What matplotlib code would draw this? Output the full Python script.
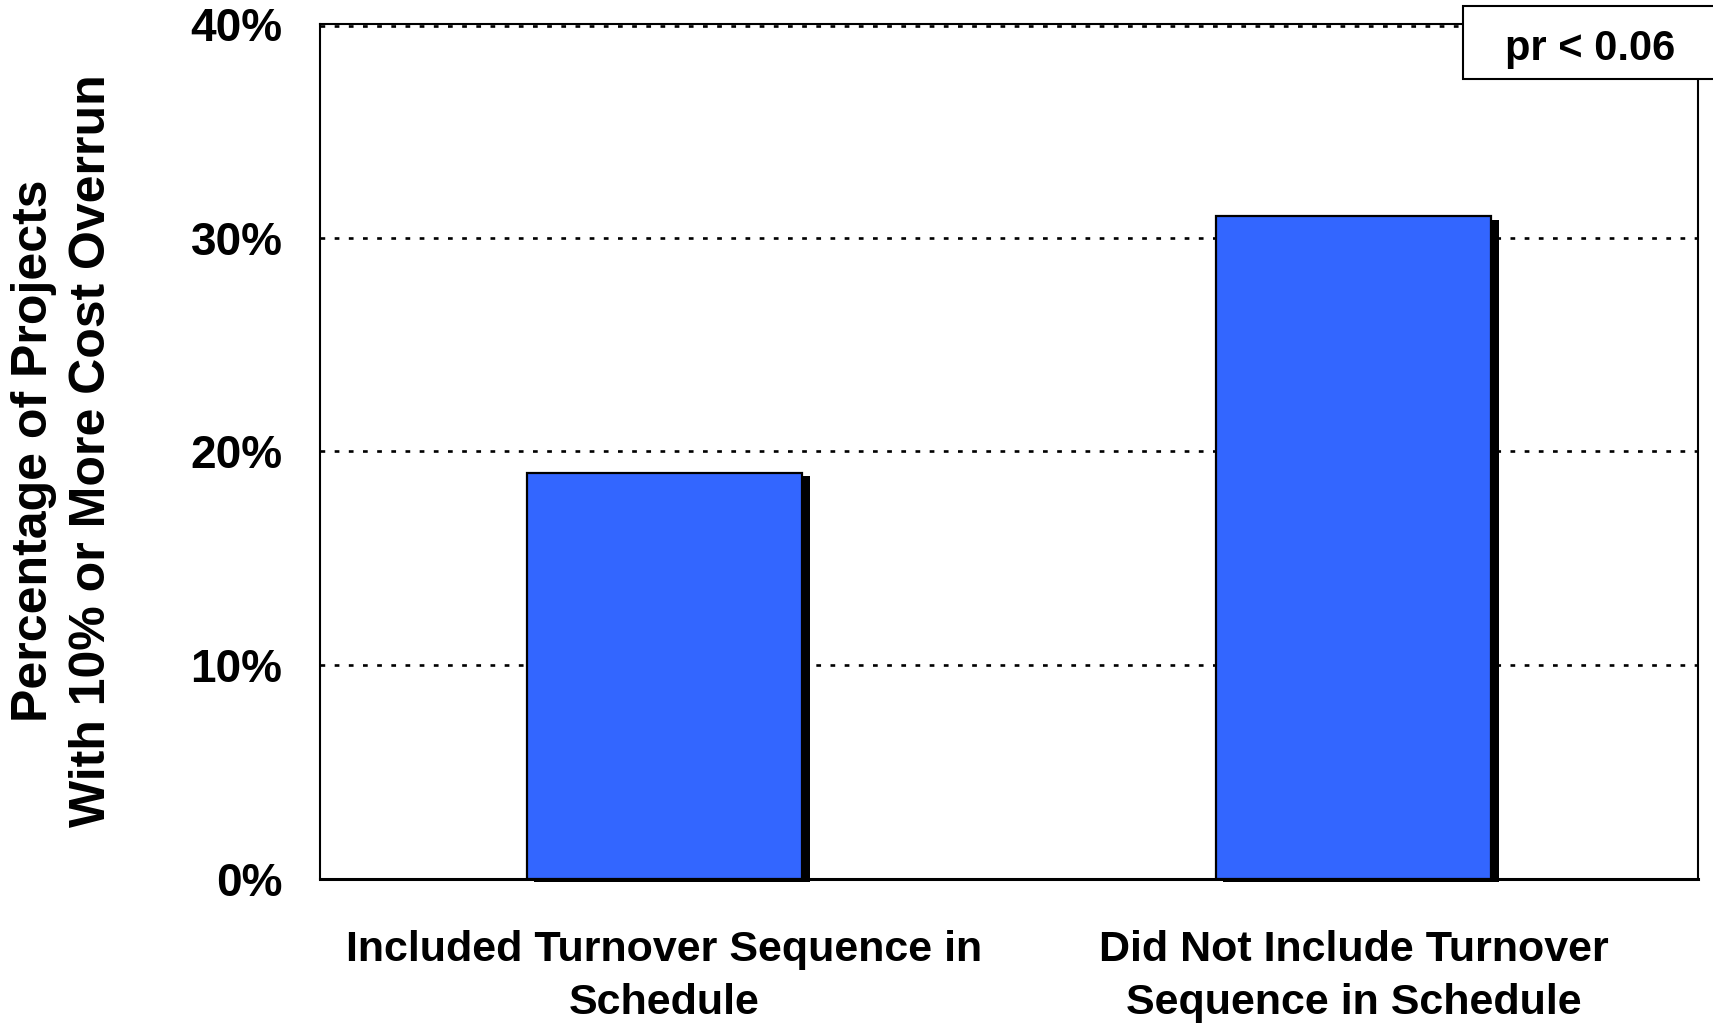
import matplotlib.pyplot as plt
from matplotlib.patches import Rectangle

# Share of projects with >=10% cost overrun, by whether a turnover sequence was scheduled
categories = ["Included Turnover Sequence in\nSchedule",
              "Did Not Include Turnover\nSequence in Schedule"]
overrun_pct = [19, 31]
y_ticks = [0, 10, 20, 30, 40]
y_tick_labels = ["0%", "10%", "20%", "30%", "40%"]
note = "pr < 0.06"

plt.rcParams["font.family"] = ["Liberation Sans", "DejaVu Sans"]
plt.rcParams["font.weight"] = "bold"
plt.rcParams["lines.scale_dashes"] = False

fig = plt.figure(figsize=(17.13, 10.24), dpi=100)
ax = fig.add_axes([0.1868, 0.1416, 0.8044, 0.835])

x = list(range(len(categories)))
bar_w = 0.4

# Drop shadows behind the bars
for xi, v in zip(x, overrun_pct):
    ax.bar(xi + 0.011, v, width=bar_w, bottom=-0.15, color="black",
           zorder=2, clip_on=False)
for xi, v in zip(x, overrun_pct):
    ax.bar(xi, v - 0.23, width=bar_w, bottom=0.08, color="white", zorder=2.5)
ax.bar(x, overrun_pct, width=bar_w, color="#3366FF", edgecolor="black",
       linewidth=1.6, zorder=3)

ax.set_xlim(-0.5, 1.5)
ax.set_ylim(0, 40)
ax.set_yticks(y_ticks)
ax.set_yticklabels(y_tick_labels)
ax.set_xticks(x)
ax.set_xticklabels(categories, linespacing=1.4)
ax.tick_params(axis="both", length=0)
ax.tick_params(axis="y", pad=27, labelsize=33)
ax.tick_params(axis="x", pad=37, labelsize=31)

for yv in y_ticks[1:]:
    ax.axhline(yv - (0.08 if yv == 40 else 0), color="black", linewidth=1.9,
               linestyle=(0, (3.4, 6.8)), zorder=1)

for side in ["left", "right", "top"]:
    ax.spines[side].set_linewidth(1.5)
ax.spines["bottom"].set_linewidth(2.2)

fig.text(0.0368, 0.5596, "Percentage of Projects\nWith 10% or More Cost Overrun",
         rotation=90, ha="center", va="center", fontsize=36,
         fontweight="bold", linespacing=1.34)

# Significance note box in the top-right corner
fig.patches.append(Rectangle((0.854, 0.9229), 0.2, 0.0711,
                             transform=fig.transFigure, facecolor="white",
                             edgecolor="black", linewidth=1.5, zorder=5))
fig.text(0.928, 0.952, note, ha="center", va="center", fontsize=30,
         fontweight="bold", zorder=6)

plt.savefig("out.png", dpi=100)
plt.close()
